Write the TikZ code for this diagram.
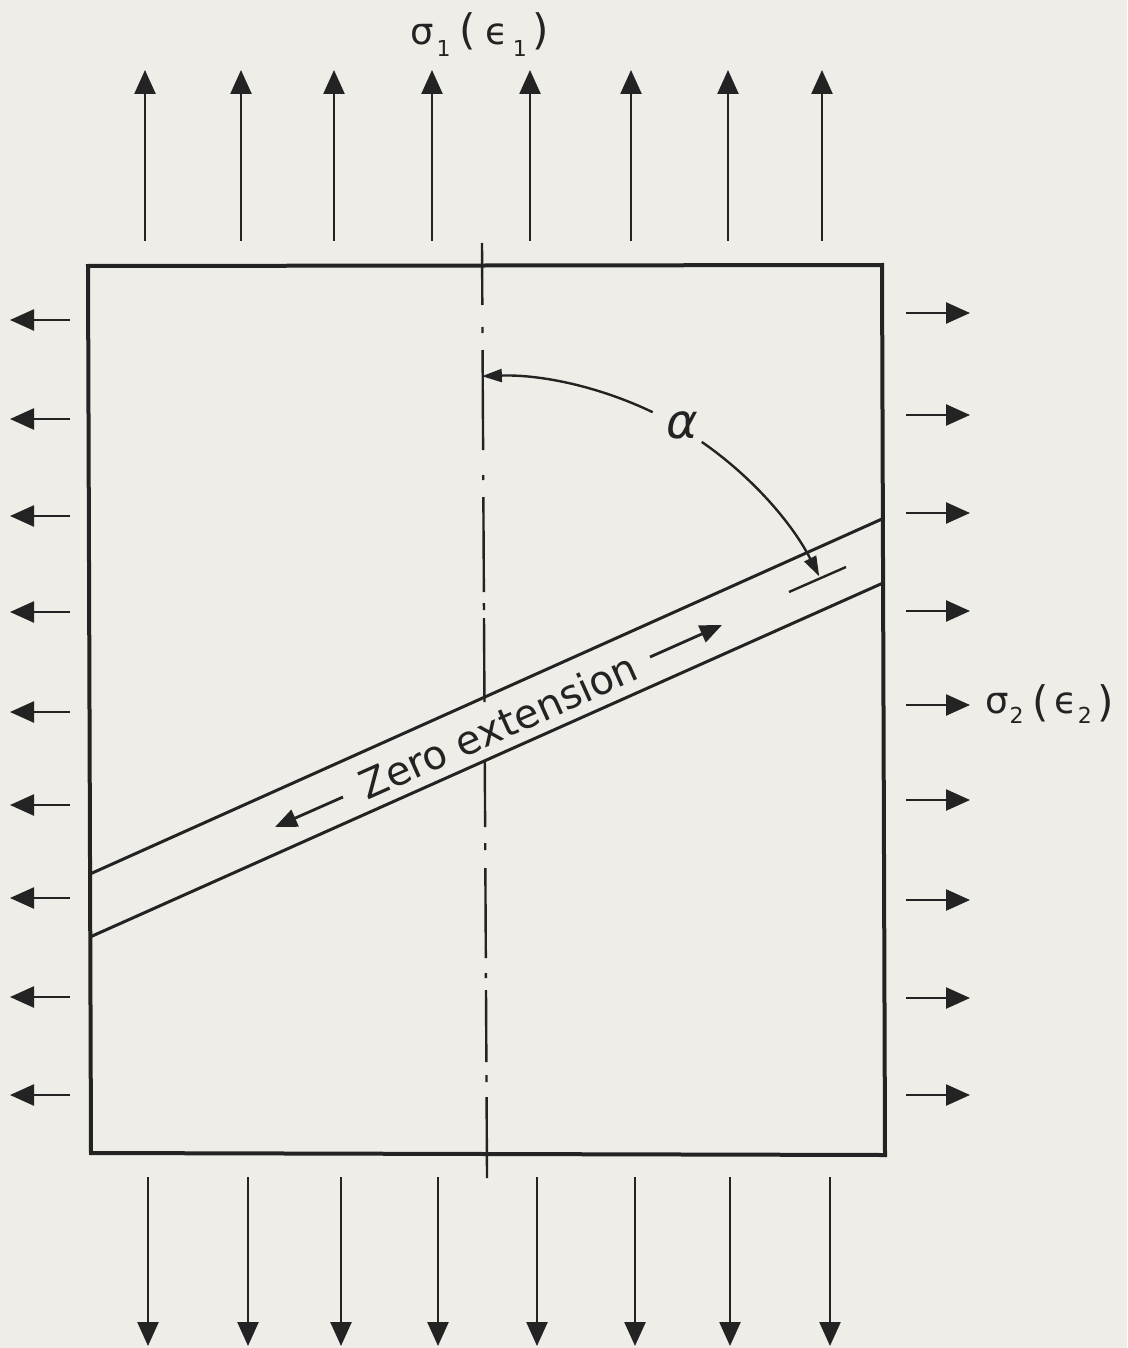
\documentclass[tikz,border=0pt]{standalone}
\usepackage{fontspec}
\setmainfont{DejaVu Sans}
\usetikzlibrary{arrows.meta,calc}
\definecolor{paper}{HTML}{EFEDE7}
\definecolor{ink}{HTML}{232323}
\newcommand\lowsub[2]{\raisebox{#1}{\fontsize{22}{22}\selectfont #2}}
\newcommand\bigpar[1]{{\fontsize{42}{44}\selectfont #1}}
\begin{document}
\begin{tikzpicture}[x=1pt,y=-1pt,
  force/.style={draw=ink,line width=2.5pt,-{Triangle[length=24pt,width=21pt]}},
  outline/.style={draw=ink,line width=4pt,line join=miter},
  bandline/.style={draw=ink,line width=3pt},
  centreline/.style={draw=ink,line width=2.4pt},
  dimarc/.style={draw=ink,line width=2.4pt,-{Triangle[length=20pt,width=13pt]}},
  bandarrow/.style={draw=ink,line width=2.8pt,-{Triangle[length=22pt,width=18pt]}},
  lbl/.style={text=ink,inner sep=0pt}]
\useasboundingbox (0,0) rectangle (1127,1348);
\fill[paper] (0,0) rectangle (1127,1348);

% specimen outline
\coordinate (TL) at (88,266);
\coordinate (TR) at (882,265);
\coordinate (BR) at (885,1155);
\coordinate (BL) at (91,1153);
\draw[outline] (TL) -- (TR) -- (BR) -- (BL) -- cycle;

% zero extension band
\coordinate (UL) at (90,874);
\coordinate (UR) at (882,519);
\coordinate (LL) at (90,937);
\coordinate (LR) at (883,583);
\draw[bandline] (UL) -- (UR);
\draw[bandline] (LL) -- (LR);

% tick on band centre
\coordinate (K1) at (789,592);
\coordinate (K2) at (846,567);
\draw[centreline] (K1) -- (K2);

% dash-dot centre line
\foreach \a/\b in {243/305,327/333,350/450,475/480,497/592,603/610,618/702,
                   760/827,843/850,868/958,973/978,990/1062,1075/1082,1097/1178}
  \draw[centreline] ({482+0.00535*(\a-243)},\a) -- ({482+0.00535*(\b-243)},\b);

% angle alpha
\coordinate (O) at (494,742);
\draw[dimarc] ($(O)+(-64.3:366)$) arc[start angle=-64.3,end angle=-91.9,radius=366];
\draw[dimarc] ($(O)+(-55.3:365)$) arc[start angle=-55.3,end angle=-27,radius=365];
\node[lbl,font=\fontsize{48}{52}\selectfont\itshape] (alpha) at (682,425) {α};

% band text and arrows
\node[lbl,rotate=24.1,font=\fontsize{40}{44}\selectfont] (ze) at (498,726) {Zero extension};
\coordinate (A1s) at (343,797);
\coordinate (A1e) at (275,827);
\coordinate (A2s) at (650,657);
\coordinate (A2e) at (722,625);
\draw[bandarrow] (A1s) -- (A1e);
\draw[bandarrow] (A2s) -- (A2e);

% applied stresses
\foreach \x in {145,241,334,432,530,631,728,822}
  \draw[force] (\x,241) -- (\x,70);
\foreach \x in {148,248,341,438,537,635,730,830}
  \draw[force] (\x,1177) -- (\x,1346);
\foreach \y in {320,419,516,612,712,805,898,997,1095}
  \draw[force] (70,\y) -- (10,\y);
\foreach \y in {313,415,513,611,705,800,900,998,1095}
  \draw[force] (906,\y) -- (970,\y);

% labels
\node[lbl,anchor=base west,font=\fontsize{37}{40}\selectfont] (sig1) at (410,45)
  {σ\kern3pt\lowsub{-12pt}{1}\kern9pt\bigpar{(}\kern9pt ϵ\kern5pt\lowsub{-12pt}{1}\kern6pt\bigpar{)}};
\node[lbl,anchor=base west,font=\fontsize{37}{40}\selectfont] (sig2) at (985,713)
  {σ\kern1pt\lowsub{-10pt}{2}\kern9pt\raisebox{-3pt}{\bigpar{(}}\kern5pt ϵ\kern1pt\lowsub{-10pt}{2}\kern6pt\raisebox{-3pt}{\bigpar{)}}};
\end{tikzpicture}
\end{document}
